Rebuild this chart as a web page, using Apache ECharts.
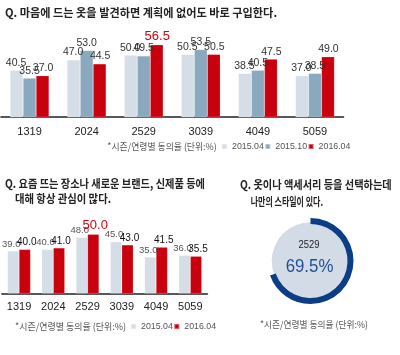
<!DOCTYPE html>
<html><head><meta charset="utf-8">
<script src="https://cdn.jsdelivr.net/npm/echarts@6/dist/echarts.min.js"></script>
<style>html,body{margin:0;padding:0;background:#fff}#c{width:400px;height:355px}</style>
</head><body><div id="c"></div>
<script>
// ---- data ----
const title1 = 'Q. 마음에 드는 옷을 발견하면 계획에 없어도 바로 구입한다.';
const title2a = 'Q. 요즘 뜨는 장소나 새로운 브랜드, 신제품 등에';
const title2b = '대해 항상 관심이 많다.';
const title3a = 'Q. 옷이나 액세서리 등을 선택하는데';
const title3b = '나만의 스타일이 있다.';
const footnote = '*시즌/연령별 동의율 (단위:%)';
const ages = ['1319', '2024', '2529', '3039', '4049', '5059'];
const periods1 = ['2015.04', '2015.10', '2016.04'];
const periods2 = ['2015.04', '2016.04'];
const c1_201504 = [40.5, 47.0, 50.0, 50.5, 38.5, 37.0];
const c1_201510 = [35.5, 53.0, 49.5, 53.5, 40.5, 38.5];
const c1_201604 = [37.0, 44.5, 56.5, 50.5, 47.5, 49.0];
const c2_201504 = [39.0, 40.0, 48.0, 45.0, 35.0, 36.0];
const c2_201604 = [40.0, 41.0, 50.0, 43.0, 41.5, 35.5];
const donutAge = '2529';
const donutValue = 69.5;

// ---- styles ----
const SANS = "'Liberation Sans',Arial,sans-serif";
const KR = "'Noto Sans CJK KR','Noto Sans CJK SC',sans-serif";
const C_LIGHT = '#d5dee7', C_STEEL = '#8aa9bf', C_RED = '#c9000d', C_RING = '#0b3e87';

const mctx = document.createElement('canvas').getContext('2d');
function fit(text, font, w) { mctx.font = font; return w / mctx.measureText(text).width; }
function txt(text, x, y, font, w, fill, align) {
  return { type: 'text', x: x, y: y, z: 100, scaleX: fit(text, font, w), silent: true,
    style: { text: text, x: 0, y: 0, font: font, fill: fill, align: align || 'left', verticalAlign: 'middle' } };
}
function withHighlight(values, color, size) {
  const mx = Math.max.apply(null, values);
  return values.map(v => v === mx && color ? { value: v, label: { color: color, fontSize: size } } : v);
}
function barSeries(name, values, color, xi, bw, labelColor, labelSize, dx, hl, hlSize) {
  return { type: 'bar', name: name, data: withHighlight(values, hl, hlSize), xAxisIndex: xi, yAxisIndex: xi,
    barWidth: bw, barGap: '0%', itemStyle: { color: color, borderColor: 'rgba(255,255,255,0.35)', borderWidth: 0.5 },
    label: { show: true, position: 'top', distance: 2, offset: [dx, 0], fontFamily: SANS, fontSize: labelSize,
      color: labelColor, formatter: p => p.value.toFixed(1) },
    emphasis: { disabled: true }, animation: false };
}
const xAx = (gi, m) => ({ type: 'category', gridIndex: gi, data: ages,
  axisLine: { lineStyle: { color: '#222', width: 1.6 } }, axisTick: { show: false },
  axisLabel: { interval: 0, fontFamily: SANS, fontSize: 11, color: '#222', margin: m } });
const yAx = gi => ({ type: 'value', gridIndex: gi, min: 11, max: 61, show: false, splitLine: { show: false } });

const fontTitle = "bold 11.5px " + KR;
const fontNote = "9.5px " + KR;
const fontBig = "19px " + SANS;
const legendText = { fontFamily: SANS, fontSize: 8.8, color: '#555' };

const chart = echarts.init(document.getElementById('c'), null, { renderer: 'canvas' });
chart.setOption({
  animation: false,
  grid: [
    { left: 1, right: 56.5, top: 37.7, bottom: 238 },
    { left: 1.9, right: 192.6, top: 217.65, bottom: 61.7 }
  ],
  xAxis: [xAx(0, 9), xAx(1, 8.5)],
  yAxis: [yAx(0), yAx(1)],
  legend: [
    { data: periods1, left: 221, top: 142, itemWidth: 5, itemHeight: 5, itemGap: 0.5, icon: 'rect', padding: 0,
      selectedMode: false, textStyle: legendText },
    { data: periods2, left: 130, top: 322, itemWidth: 5, itemHeight: 5, itemGap: 0.5, icon: 'rect', padding: 0,
      selectedMode: false, textStyle: legendText }
  ],
  series: [
    barSeries(periods1[0], c1_201504, C_LIGHT, 0, 13, '#333', 10.5, -0.5),
    barSeries(periods1[1], c1_201510, C_STEEL, 0, 13, '#333', 10.5, 0),
    barSeries(periods1[2], c1_201604, C_RED, 0, 13, '#333', 10.5, 0.5, '#d40010', 13),
    barSeries(periods2[0], c2_201504, C_LIGHT, 1, 11.5, '#555', 9.5, -2),
    barSeries(periods2[1], c2_201604, C_RED, 1, 11.5, '#111', 10, 2, '#d40010', 13),
    { type: 'pie', center: [310.5, 261], radius: [0, 38.8], silent: true, label: { show: false },
      data: [{ value: 1, itemStyle: { color: '#d3dce6' } }], animation: false },
    { type: 'pie', center: [310.5, 261], radius: [37, 43], startAngle: 90, clockwise: true, silent: true,
      label: { show: false }, animation: false,
      data: [{ value: donutValue, itemStyle: { color: C_RING } },
             { value: 100 - donutValue, itemStyle: { color: 'rgba(0,0,0,0)' } }] }
  ],
  graphic: [
    txt(title1, 5, 13, fontTitle, 272, '#222'),
    txt(title2a, 5, 184, fontTitle, 200, '#222'),
    txt(title2b, 15, 199, fontTitle, 96, '#222'),
    txt(title3a, 240, 185, fontTitle, 151.7, '#222'),
    txt(title3b, 250.7, 202, fontTitle, 72.3, '#222'),
    txt(footnote, 107.3, 146.7, fontNote, 109.4, '#555'),
    txt(footnote, 15, 326.7, fontNote, 111, '#555'),
    txt(footnote, 260, 324, fontNote, 108, '#555'),
    txt(donutAge, 309, 245.3, "10px " + SANS, 21, '#222', 'center'),
    txt(donutValue.toFixed(1) + '%', 309.5, 267, fontBig, 47.7, '#1f4f9c', 'center')
  ]
});
</script></body></html>
